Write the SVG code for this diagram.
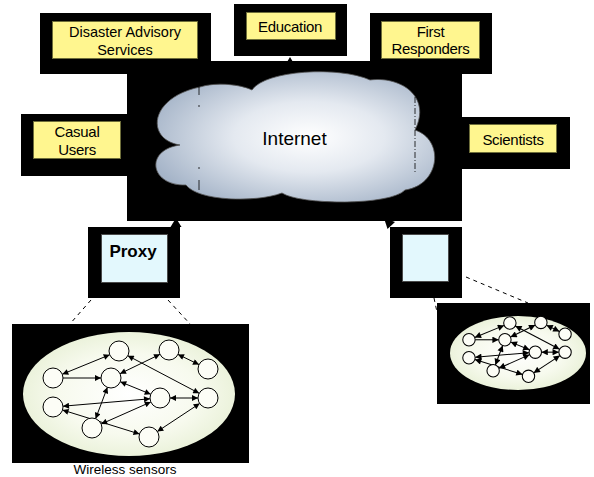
<svg xmlns="http://www.w3.org/2000/svg" xmlns:xlink="http://www.w3.org/1999/xlink" width="594" height="477" viewBox="0 0 594 477">
<style>
.frame{fill:#000}
.label{fill:#fff68f;stroke:#6e6e3a;stroke-width:1}
.proxybox{fill:#e3f8fd;stroke:#4a4a4a;stroke-width:1}
.t{font-family:"Liberation Sans",Arial,sans-serif;font-size:15px;fill:#000;text-anchor:middle}
.dash{stroke:#000;stroke-width:1;stroke-dasharray:4 4;fill:none}
.edge{stroke:#000;fill:none}
.both{marker-start:url(#ah);marker-end:url(#ah)}
.one{marker-end:url(#ah)}
.node{fill:#fcfdf6;stroke:#000}
</style>
<defs>
<radialGradient id="cloudGrad" cx="0.55" cy="0.5" r="0.6">
<stop offset="0" stop-color="#ffffff"/>
<stop offset="0.45" stop-color="#e4e9f0"/>
<stop offset="1" stop-color="#a5b4c8"/>
</radialGradient>
<radialGradient id="ellGrad" cx="0.5" cy="0.5" r="0.55">
<stop offset="0" stop-color="#ffffff"/>
<stop offset="0.6" stop-color="#f7faee"/>
<stop offset="1" stop-color="#e8f0d6"/>
</radialGradient>
<marker id="ah" viewBox="0 0 10 10" refX="10" refY="5" markerWidth="7.5" markerHeight="6" orient="auto-start-reverse" markerUnits="strokeWidth">
<path d="M0,0 L10,5 L0,10 z" fill="#000"/>
</marker>
<g id="net">
<g class="netedges">
<line class="edge both" x1="62.3" y1="374.2" x2="109.7" y2="354.8"/>
<line class="edge one" x1="63" y1="378" x2="101" y2="378"/>
<line class="edge both" x1="160" y1="354.3" x2="120" y2="373.7"/>
<line class="edge both" x1="127.8" y1="355.7" x2="199.2" y2="393.3"/>
<line class="edge both" x1="178" y1="354.4" x2="199" y2="364.6"/>
<line class="edge both" x1="120.3" y1="381.8" x2="150.7" y2="394.2"/>
<line class="edge both" x1="170" y1="398" x2="198" y2="398"/>
<line class="edge both" x1="107.4" y1="387.3" x2="95.6" y2="418.7"/>
<line class="edge both" x1="150" y1="398.8" x2="63" y2="406.2"/>
<line class="edge both" x1="150.8" y1="402" x2="101.2" y2="424"/>
<line class="edge both" x1="62.5" y1="410" x2="139.5" y2="434"/>
<line class="edge both" x1="199.7" y1="403.5" x2="157.3" y2="431.5"/>
</g>
<circle class="node" cx="119" cy="351" r="10"/>
<circle class="node" cx="169" cy="350" r="10"/>
<circle class="node" cx="208" cy="369" r="10"/>
<circle class="node" cx="53" cy="378" r="10"/>
<circle class="node" cx="111" cy="378" r="10"/>
<circle class="node" cx="160" cy="398" r="10"/>
<circle class="node" cx="208" cy="398" r="10"/>
<circle class="node" cx="53" cy="407" r="10"/>
<circle class="node" cx="92" cy="428" r="10"/>
<circle class="node" cx="149" cy="437" r="10"/>
</g>
</defs>
<rect width="594" height="477" fill="#ffffff"/>

<g id="internet">
<rect class="frame" x="127" y="61" width="335" height="160"/>
<path d="M180,145 C146,140 148,98 200,87 C215,82 240,84 252,90 C265,70 340,66 370,80 C400,76 432,96 415,130 C445,140 440,185 405,190 C390,206 300,205 282,193 C255,203 198,201 186,185 C150,186 144,150 180,145 Z" fill="url(#cloudGrad)" stroke="#555" stroke-width="0.8"/>
<g stroke="#000" stroke-width="0.8" fill="none">
<line x1="199" y1="87" x2="199" y2="95"/>
<line x1="199" y1="105" x2="199" y2="107"/>
<line x1="199" y1="167" x2="199" y2="169"/>
<line x1="199" y1="180" x2="199" y2="190"/>
<line x1="415" y1="97" x2="415" y2="172" stroke-dasharray="6 2 1 2"/>
</g>
<text class="t" x="294.5" y="145" style="font-size:19px">Internet</text>
</g>

<g id="disaster">
<rect class="frame" x="40" y="13" width="171" height="61"/>
<rect class="label" x="52.5" y="21.5" width="145" height="37"/>
<text class="t" x="125" y="37" style="font-size:14.5px">Disaster  Advisory</text>
<text class="t" x="125" y="54.5" style="font-size:14.5px">Services</text>
</g>

<g id="education">
<rect class="frame" x="234" y="4" width="113" height="52"/>
<rect class="label" x="246.5" y="12.5" width="89" height="27"/>
<text class="t" x="290" y="31.5" style="letter-spacing:-0.3px">Education</text>
</g>

<g id="responders">
<rect class="frame" x="370" y="13" width="122" height="61"/>
<rect class="label" x="381.5" y="21.5" width="98" height="37"/>
<text class="t" x="430.5" y="37" style="letter-spacing:-0.3px">First</text>
<text class="t" x="430.5" y="54" style="letter-spacing:-0.3px">Responders</text>
</g>

<g id="casual">
<rect class="frame" x="21" y="114" width="108" height="62"/>
<rect class="label" x="33.5" y="121.5" width="87" height="37"/>
<text class="t" x="77" y="137" style="letter-spacing:-0.3px">Casual</text>
<text class="t" x="77" y="155" style="letter-spacing:-0.3px">Users</text>
</g>

<g id="scientists">
<rect class="frame" x="460" y="117" width="110" height="52"/>
<rect class="label" x="469.5" y="124.5" width="87" height="28"/>
<text class="t" x="513" y="145" style="letter-spacing:-0.3px">Scientists</text>
</g>

<g id="proxy">
<rect class="frame" x="88" y="227" width="92" height="71"/>
<rect class="proxybox" x="101.5" y="234.5" width="66" height="48"/>
<text class="t" x="133" y="257" style="font-size:17px;font-weight:bold">Proxy</text>
</g>

<g id="gateway">
<rect class="frame" x="390" y="227" width="72" height="71"/>
<rect class="proxybox" x="402.5" y="234.5" width="46" height="47"/>
</g>

<g id="sensor-net-left">
<rect class="frame" x="12" y="324" width="237" height="139"/>
<ellipse cx="129" cy="394" rx="106" ry="62" fill="url(#ellGrad)"/>
<use xlink:href="#net" href="#net" stroke-width="1"/>
</g>
<text class="t" x="125" y="473.5" style="font-size:13.5px">Wireless sensors</text>

<g id="sensor-net-right">
<rect class="frame" x="437" y="303" width="153" height="101"/>
<ellipse cx="518" cy="353" rx="68" ry="37" fill="url(#ellGrad)"/>
<use xlink:href="#net" href="#net" transform="translate(436.1,105.4) scale(0.62)" stroke-width="1.7"/>
</g>

<g id="connectors">
<path d="M176,218 L170.5,227 L181.5,227 Z" fill="#000"/>
<path d="M384,218 L387.5,229 L395,222 Z" fill="#000"/>
<path d="M290,57 L287,62 L293,62 Z" fill="#000"/>
<line class="dash" x1="91" y1="300" x2="69" y2="325"/>
<line class="dash" x1="168" y1="300" x2="191" y2="325"/>
<line class="dash" x1="466" y1="277" x2="528" y2="303"/>
<line class="dash" x1="434" y1="298" x2="437" y2="312"/>
</g>
</svg>
